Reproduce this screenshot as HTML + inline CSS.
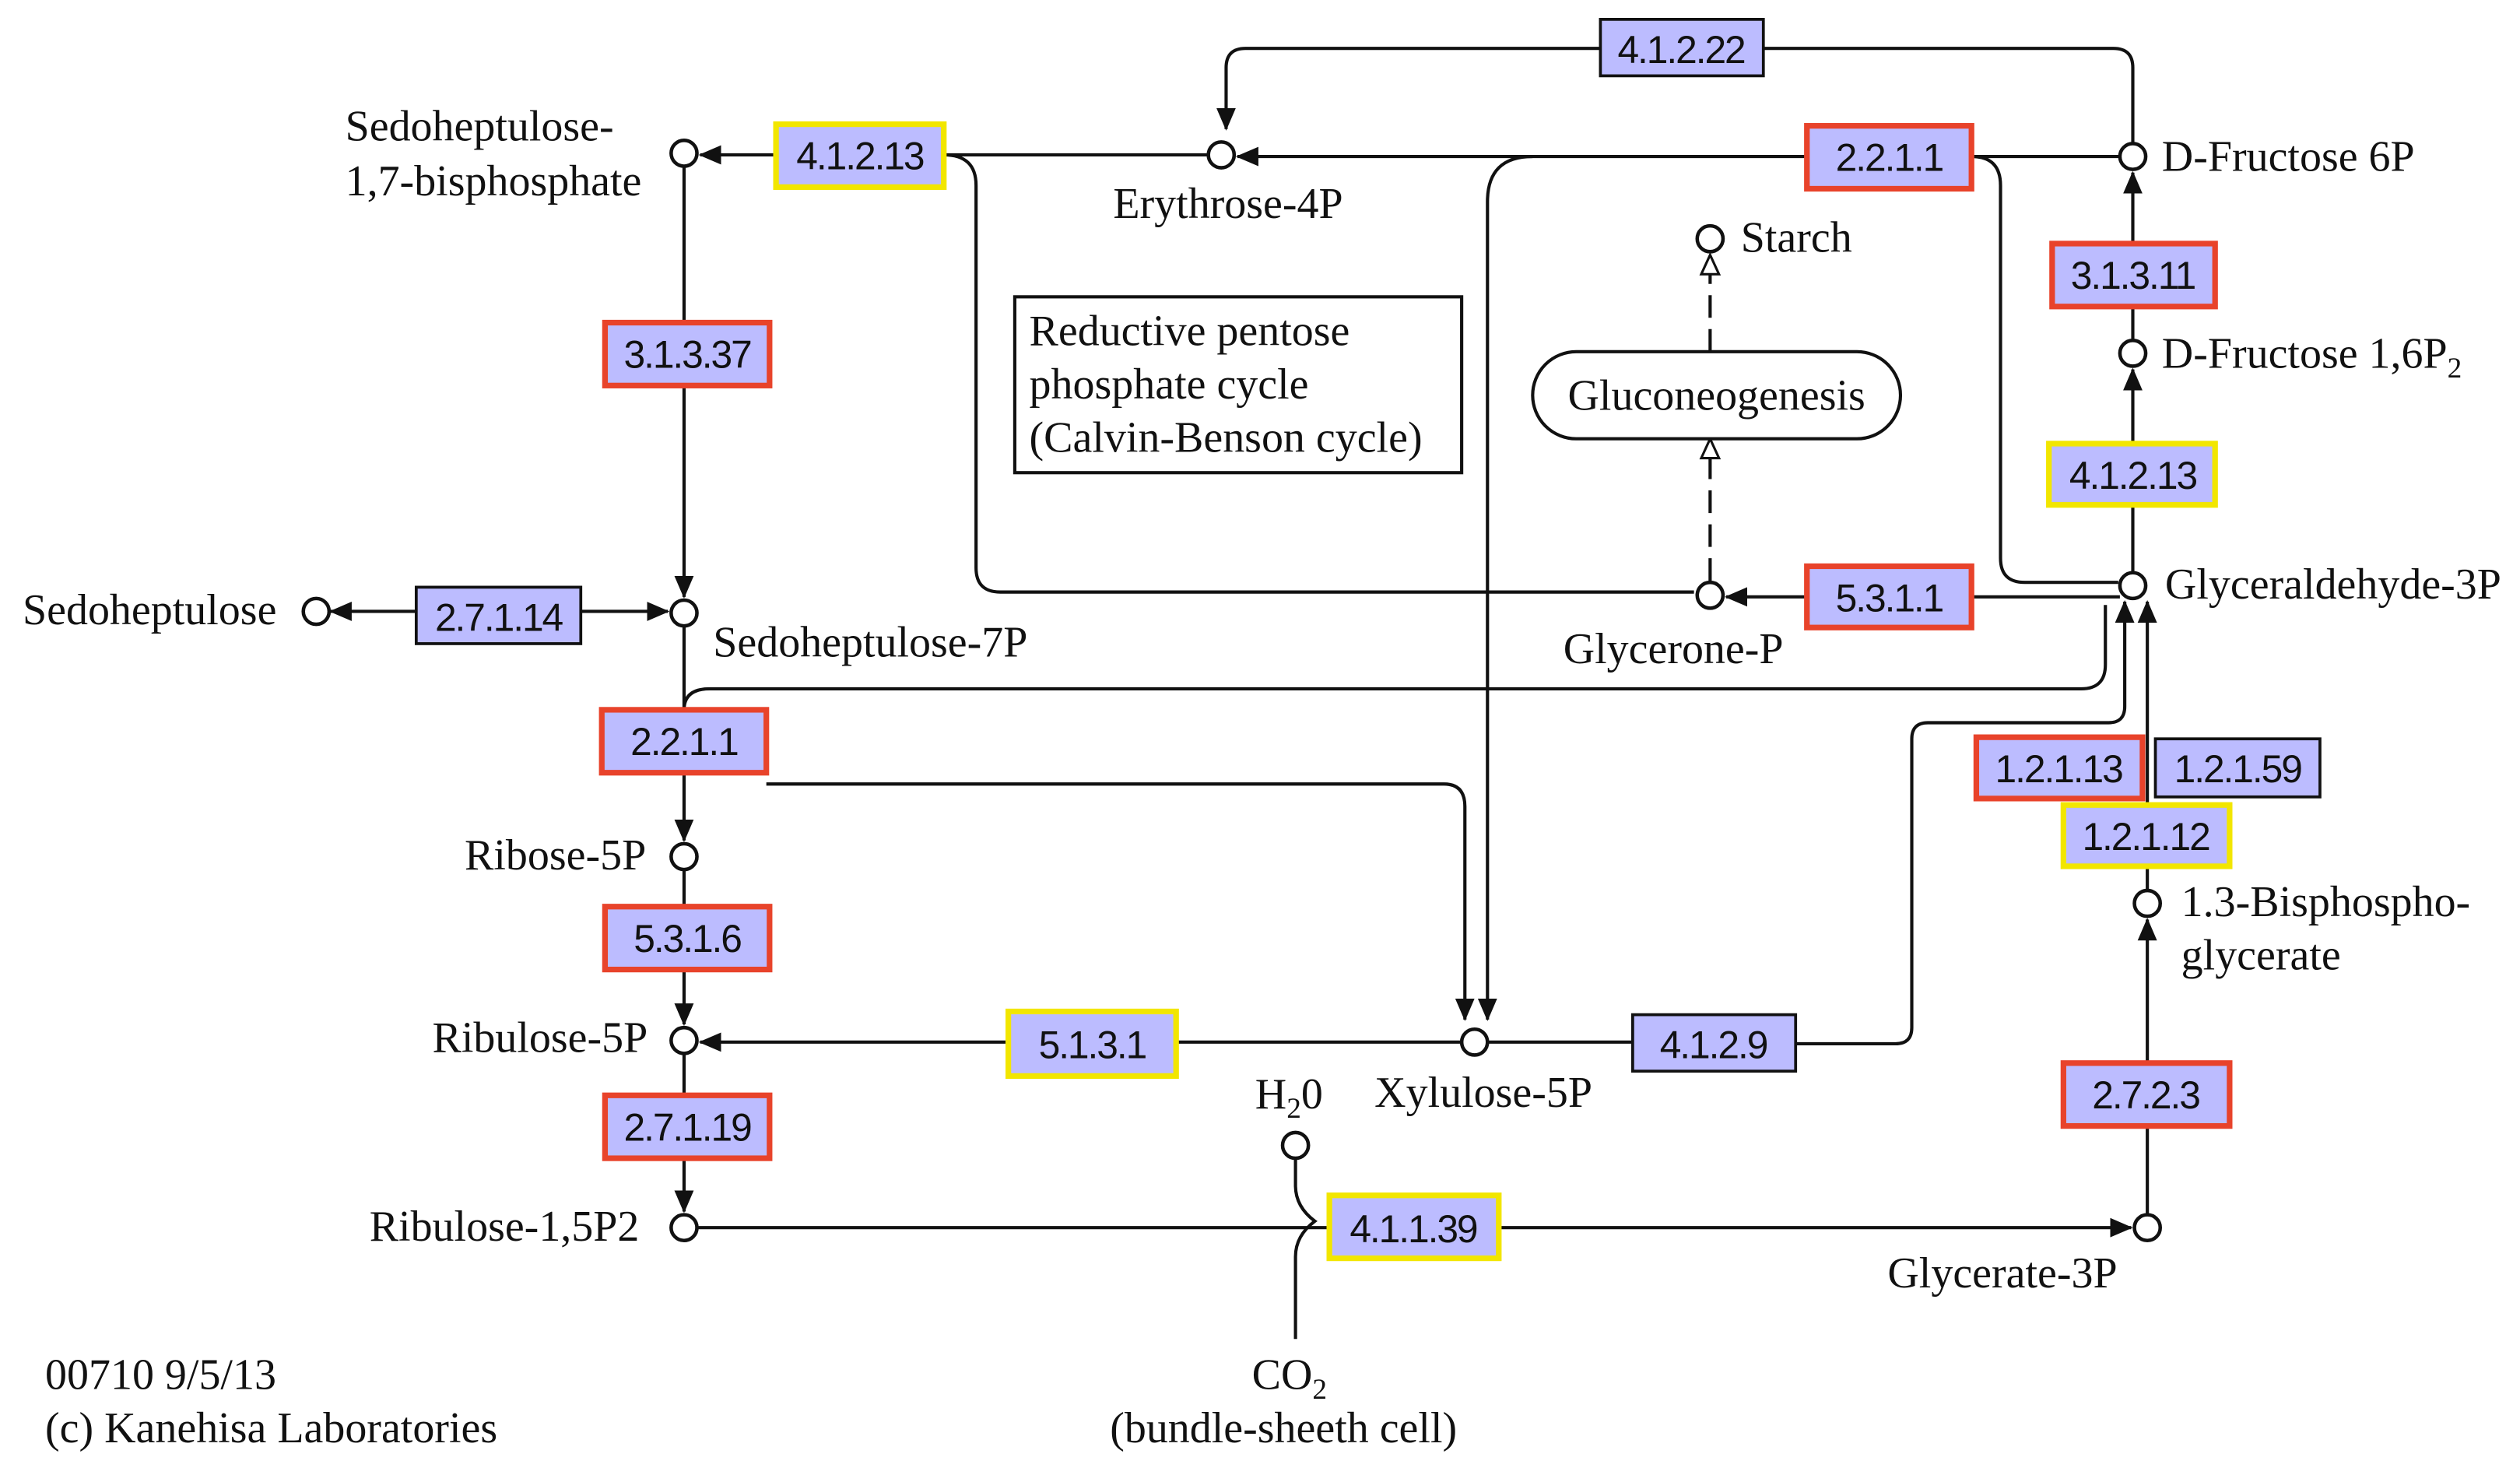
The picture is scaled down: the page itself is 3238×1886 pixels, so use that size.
<!DOCTYPE html>
<html><head><meta charset="utf-8"><style>
html,body{margin:0;padding:0;background:#fff;}
svg{display:block;}
text{font-family:"Liberation Serif",serif;font-size:27px;fill:#111;}
.bt{font-family:"Liberation Sans",sans-serif;font-size:24px;letter-spacing:-1px;text-anchor:middle;}
.b{fill:#bcbcff;}
.r{stroke:#e8432b;stroke-width:3.5;}
.y{stroke:#f2e600;stroke-width:3.5;}
.k{stroke:#111;stroke-width:1.8;}
.l{fill:none;stroke:#111;stroke-width:2;}
.n{fill:#fff;stroke:#111;stroke-width:2.2;}
</style></head><body>
<svg width="3238" height="1886" viewBox="0 0 1562 910" preserveAspectRatio="none" xmlns="http://www.w3.org/2000/svg">
<defs>
<marker id="a" markerWidth="14" markerHeight="14" refX="13" refY="7" orient="auto" markerUnits="userSpaceOnUse" viewBox="0 0 14 14"><path d="M0,1 L14,7 L0,13 z" fill="#111"/></marker>
<marker id="h" markerWidth="14" markerHeight="14" refX="13" refY="7" orient="auto" markerUnits="userSpaceOnUse" viewBox="0 0 14 14"><path d="M1,1.5 L13,7 L1,12.5 z" fill="#fff" stroke="#111" stroke-width="1.5"/></marker>
</defs>
<path class="l" d="M1322,89 V42 Q1322,30 1310,30 H1093"/>
<path class="l" d="M992,30 H772 Q760,30 760,42 V80" marker-end="url(#a)"/>
<path class="l" d="M1314,97 H1222"/>
<path class="l" d="M1120,97 H767" marker-end="url(#a)"/>
<path class="l" d="M749,96 H585"/>
<path class="l" d="M481,96 H434" marker-end="url(#a)"/>
<path class="l" d="M585,96 Q605,96 605,115 V352 Q605,367 620,367 H1050"/>
<path class="l" d="M1222,97 Q1240,97 1240,115 V346 Q1240,361 1255,361 H1313"/>
<path class="l" d="M950,97 Q922,97 922,125 V632" marker-end="url(#a)"/>
<path class="l" d="M424,104 V200"/>
<path class="l" d="M424,239 V370" marker-end="url(#a)"/>
<path class="l" d="M360,379 H414" marker-end="url(#a)"/>
<path class="l" d="M258,379 H205" marker-end="url(#a)"/>
<path class="l" d="M424,388 V440"/>
<path class="l" d="M424,440 Q424,427 440,427 H1290 Q1305,427 1305,412 V375"/>
<path class="l" d="M424,479 V521" marker-end="url(#a)"/>
<path class="l" d="M475,486 H895 Q908,486 908,500 V632" marker-end="url(#a)"/>
<path class="l" d="M424,539 V562"/>
<path class="l" d="M424,601 V635" marker-end="url(#a)"/>
<path class="l" d="M625,646 H434" marker-end="url(#a)"/>
<path class="l" d="M729,646 H906"/>
<path class="l" d="M922,646 H1012"/>
<path class="l" d="M1113,647 H1175 Q1185,647 1185,637 V458 Q1185,448 1195,448 H1307 Q1317,448 1317,438 V373" marker-end="url(#a)"/>
<path class="l" d="M424,653 V679"/>
<path class="l" d="M424,718 V751" marker-end="url(#a)"/>
<path class="l" d="M432,761 H824"/>
<path class="l" d="M929,761 H1321" marker-end="url(#a)"/>
<path class="l" d="M803,718 V735 Q803,748 815,757 Q803,766 803,779 V830"/>
<path class="l" d="M1331,753 V698"/>
<path class="l" d="M1331,659 V570" marker-end="url(#a)"/>
<path class="l" d="M1331,552 V537"/>
<path class="l" d="M1331,499 V373" marker-end="url(#a)"/>
<path class="l" d="M1322,355 V313"/>
<path class="l" d="M1322,275 V229" marker-end="url(#a)"/>
<path class="l" d="M1322,211 V190"/>
<path class="l" d="M1322,151 V107" marker-end="url(#a)"/>
<path class="l" d="M1314,370 H1222"/>
<path class="l" d="M1120,370 H1070" marker-end="url(#a)"/>
<path class="l" d="M1060,360 V272" stroke-dasharray="14,7" marker-end="url(#h)"/>
<path class="l" d="M1060,218 V158" stroke-dasharray="14,7" marker-end="url(#h)"/>
<rect x="992" y="12" width="101" height="35" class="b k"/><text x="1042" y="39" class="bt">4.1.2.22</text>
<rect x="481" y="77" width="104" height="39" class="b y"/><text x="533" y="105" class="bt">4.1.2.13</text>
<rect x="1120" y="78" width="102" height="39" class="b r"/><text x="1171" y="106" class="bt">2.2.1.1</text>
<rect x="1272" y="151" width="101" height="39" class="b r"/><text x="1322" y="179" class="bt">3.1.3.11</text>
<rect x="1270" y="275" width="103" height="38" class="b y"/><text x="1322" y="303" class="bt">4.1.2.13</text>
<rect x="1120" y="351" width="102" height="38" class="b r"/><text x="1171" y="379" class="bt">5.3.1.1</text>
<rect x="375" y="200" width="102" height="39" class="b r"/><text x="426" y="228" class="bt">3.1.3.37</text>
<rect x="258" y="364" width="102" height="35" class="b k"/><text x="309" y="391" class="bt">2.7.1.14</text>
<rect x="373" y="440" width="102" height="39" class="b r"/><text x="424" y="468" class="bt">2.2.1.1</text>
<rect x="375" y="562" width="102" height="39" class="b r"/><text x="426" y="590" class="bt">5.3.1.6</text>
<rect x="375" y="679" width="102" height="39" class="b r"/><text x="426" y="707" class="bt">2.7.1.19</text>
<rect x="625" y="627" width="104" height="40" class="b y"/><text x="677" y="656" class="bt">5.1.3.1</text>
<rect x="1012" y="629" width="101" height="35" class="b k"/><text x="1062" y="656" class="bt">4.1.2.9</text>
<rect x="1225" y="457" width="103" height="38" class="b r"/><text x="1276" y="485" class="bt">1.2.1.13</text>
<rect x="1336" y="458" width="102" height="36" class="b k"/><text x="1387" y="485" class="bt">1.2.1.59</text>
<rect x="1279" y="499" width="103" height="38" class="b y"/><text x="1330" y="527" class="bt">1.2.1.12</text>
<rect x="1279" y="659" width="103" height="39" class="b r"/><text x="1330" y="687" class="bt">2.7.2.3</text>
<rect x="824" y="741" width="105" height="39" class="b y"/><text x="876" y="770" class="bt">4.1.1.39</text>
<rect x="629" y="184" width="277" height="109" fill="#fff" stroke="#111" stroke-width="2"/>
<text x="638" y="214">Reductive pentose</text>
<text x="638" y="247">phosphate cycle</text>
<text x="638" y="280">(Calvin-Benson cycle)</text>
<rect x="950" y="218" width="228" height="54" rx="27" fill="#fff" stroke="#111" stroke-width="2"/>
<text x="1064" y="254" text-anchor="middle">Gluconeogenesis</text>
<circle class="n" cx="424" cy="95" r="8"/><circle class="n" cx="757" cy="96" r="8"/>
<circle class="n" cx="1322" cy="97" r="8"/><circle class="n" cx="1060" cy="148" r="8"/>
<circle class="n" cx="1322" cy="219" r="8"/><circle class="n" cx="1322" cy="363" r="8"/>
<circle class="n" cx="1060" cy="369" r="8"/><circle class="n" cx="196" cy="379" r="8"/>
<circle class="n" cx="424" cy="380" r="8"/><circle class="n" cx="424" cy="531" r="8"/>
<circle class="n" cx="424" cy="645" r="8"/><circle class="n" cx="914" cy="646" r="8"/>
<circle class="n" cx="803" cy="710" r="8"/><circle class="n" cx="424" cy="761" r="8"/>
<circle class="n" cx="1331" cy="761" r="8"/><circle class="n" cx="1331" cy="560" r="8"/>
<text x="214" y="87">Sedoheptulose-</text>
<text x="214" y="121">1,7-bisphosphate</text>
<text x="690" y="135">Erythrose-4P</text>
<text x="1340" y="106">D-Fructose 6P</text>
<text x="1079" y="156">Starch</text>
<text x="1340" y="228">D-Fructose 1,6P<tspan font-size="18" dy="6">2</tspan></text>
<text x="1342" y="371">Glyceraldehyde-3P</text>
<text x="969" y="411">Glycerone-P</text>
<text x="14" y="387">Sedoheptulose</text>
<text x="442" y="407">Sedoheptulose-7P</text>
<text x="288" y="539">Ribose-5P</text>
<text x="268" y="652">Ribulose-5P</text>
<text x="852" y="686">Xylulose-5P</text>
<text x="778" y="687">H<tspan font-size="18" dy="6">2</tspan><tspan dy="-6">0</tspan></text>
<text x="1170" y="798">Glycerate-3P</text>
<text x="229" y="769">Ribulose-1,5P2</text>
<text x="1352" y="568">1.3-Bisphospho-</text>
<text x="1352" y="601">glycerate</text>
<text x="776" y="861">CO<tspan font-size="18" dy="6">2</tspan></text>
<text x="688" y="894">(bundle-sheeth cell)</text>
<text x="28" y="861">00710 9/5/13</text>
<text x="28" y="894">(c) Kanehisa Laboratories</text>
</svg>
</body></html>
